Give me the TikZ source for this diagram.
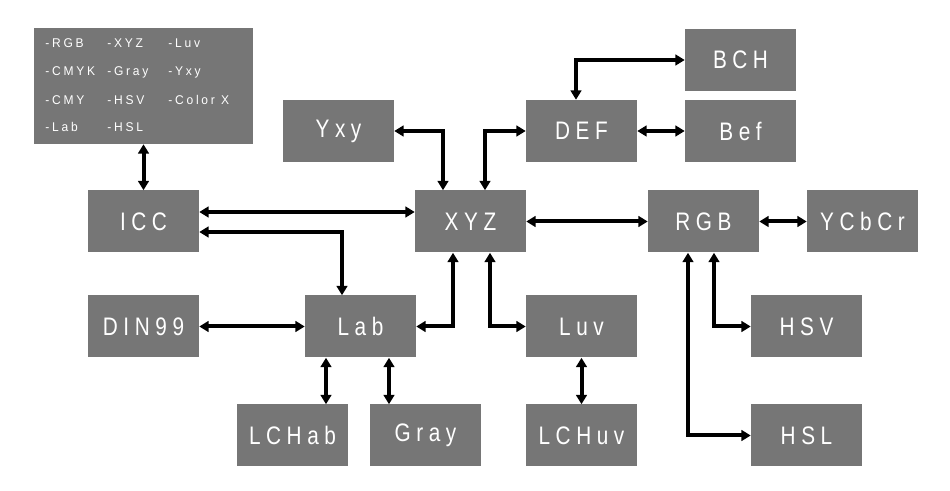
\documentclass[tikz,border=0pt]{standalone}
\usepackage{fontspec}
\usetikzlibrary{arrows.meta}
\newfontfamily\boxfont{Liberation Sans}[FakeStretch=0.82,LetterSpace=22]
\newfontfamily\keyfont{Liberation Sans}[FakeStretch=0.95,LetterSpace=22]
\definecolor{boxgray}{RGB}{118,118,118}

\tikzset{
    space/.style={fill=boxgray, text=white, inner sep=0pt,
        minimum width=83.25pt, minimum height=46.5pt,
        font=\boxfont\fontsize{19pt}{19pt}\selectfont},
    keyitem/.style={text=white, inner sep=0pt, anchor=base west,
        font=\keyfont\fontsize{9.5pt}{9.5pt}\selectfont},
    link/.style={line width=3pt, {Triangle[width=8pt,length=7pt]}-{Triangle[width=8pt,length=7pt]}}
}

\begin{document}
\begin{tikzpicture}[x=0.75pt,y=-0.75pt]
                \useasboundingbox (0,0) rectangle (950,491);

                % list of ICC colour spaces
                \node[fill=boxgray, inner sep=0pt, minimum width=164.25pt, minimum height=87pt] (key) at (143.5,86) {};
                \node[keyitem] (k1) at (45,48) {-RGB};
                \node[keyitem] (k2) at (107,48) {-XYZ};
                \node[keyitem] (k3) at (168,48) {-Luv};
                \node[keyitem] (k4) at (45,76) {-CMYK};
                \node[keyitem] (k5) at (107,76) {-Gray};
                \node[keyitem] (k6) at (168,76) {-Yxy};
                \node[keyitem] (k7) at (45,105) {-CMY};
                \node[keyitem] (k8) at (107,105) {-HSV};
                \node[keyitem] (k9) at (168,105) {-Color X};
                \node[keyitem] (k10) at (45,132) {-Lab};
                \node[keyitem] (k11) at (107,132) {-HSL};

                % colour spaces
                \node[space] (bch) at (740.5,60) {BCH};
                \node[space] (yxy) at (338.5,131) {Yxy};
                \node[space] (def) at (581.5,131) {DEF};
                \node[space] (bef) at (740.5,131) {Bef};
                \node[space] (icc) at (143.5,221.5) {ICC};
                \node[space] (xyz) at (470.5,221.5) {XYZ};
                \node[space] (rgb) at (703.5,221.5) {RGB};
                \node[space] (ycbcr) at (862.5,221.5) {YCbCr};
                \node[space] (din) at (143.5,326.5) {DIN99};
                \node[space] (lab) at (360.5,326.5) {Lab};
                \node[space] (luv) at (581.5,326.5) {Luv};
                \node[space] (hsv) at (806.5,326.5) {HSV};
                \node[space] (lchab) at (292.5,435.5) {LCHab};
                \node[space] (gray) at (425.5,435.5) {Gray};
                \node[space] (lchuv) at (581.5,435.5) {LCHuv};
                \node[space] (hsl) at (806.5,435.5) {HSL};

                % conversions
                \draw[link] (key) -- (icc);
                \draw[link] (icc.east |- 0,212) -- (xyz.west |- 0,212);
                \draw[link] (icc.east |- 0,232) -| (lab.north -| 342,0);
                \draw[link] (din) -- (lab);
                \draw[link] (lab.east) -| (xyz.south -| 453,0);
                \draw[link] (lab.south -| 326,0) -- (lchab.north -| 326,0);
                \draw[link] (lab.south -| 389,0) -- (gray.north -| 389,0);
                \draw[link] (yxy.east) -| (xyz.north -| 443,0);
                \draw[link] (def.west) -| (xyz.north -| 485,0);
                \draw[link] (xyz.south -| 490,0) |- (luv.west);
                \draw[link] (xyz) -- (rgb);
                \draw[link] (def.north -| 576,0) |- (bch.west);
                \draw[link] (def) -- (bef);
                \draw[link] (rgb) -- (ycbcr);
                \draw[link] (rgb.south -| 714,0) |- (hsv.west);
                \draw[link] (rgb.south -| 688,0) |- (hsl.west);
                \draw[link] (luv) -- (lchuv);
            \end{tikzpicture}
\end{document}
